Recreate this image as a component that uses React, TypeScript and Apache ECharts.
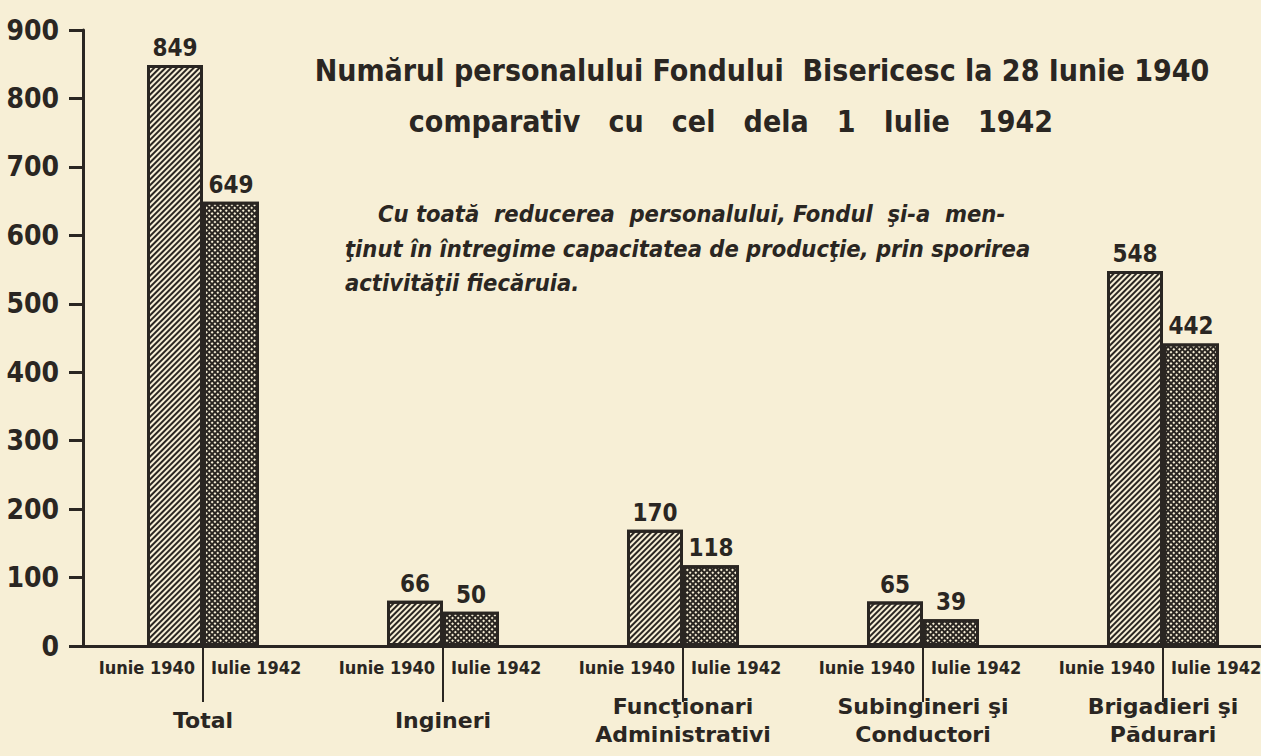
import React, { useEffect, useRef } from "react";
import * as echarts from "echarts";

const categories = [
  "Total",
  "Ingineri",
  "Funcţionari\nAdministrativi",
  "Subingineri şi\nConductori",
  "Brigadieri şi\nPădurari",
];
const seriesNames = ["Iunie 1940", "Iulie 1942"];
const values1940 = [849, 66, 170, 65, 548];
const values1942 = [649, 50, 118, 39, 442];
const yMin = 0;
const yMax = 900;
const yInterval = 100;
const titleLines = [
  "Numărul personalului Fondului  Bisericesc la 28 Iunie 1940",
  "comparativ   cu   cel   dela   1   Iulie   1942",
];
const noteLines = [
  "Cu toată  reducerea  personalului, Fondul  şi-a  men-",
  "ţinut în întregime capacitatea de producţie, prin sporirea",
  "activităţii fiecăruia.",
];

const INK = "#2a2622";
const PAPER = "#f7efd6";
const COND = '"DejaVu Sans Condensed", "DejaVu Sans", sans-serif';

export default function App() {
  const ref = useRef<HTMLDivElement>(null);

  useEffect(() => {
    if (!ref.current) return;
    const chart = echarts.init(ref.current, undefined, { renderer: "svg" });
    const noteFont = `italic bold 23.5px ${COND}`;
    const titleFont = `bold 30px ${COND}`;
    const option: any = {
      animation: false,
      backgroundColor: PAPER,
      grid: { left: 83, top: 30, width: 1200, height: 616 },
      xAxis: {
        type: "category",
        data: categories,
        axisLine: { show: true, lineStyle: { color: INK, width: 3 } },
        axisTick: {
          show: true,
          alignWithLabel: true,
          length: 56,
          lineStyle: { color: INK, width: 2 },
        },
        axisLabel: {
          interval: 0,
          margin: 74,
          verticalAlign: "middle",
          fontFamily: "DejaVu Sans",
          fontWeight: "bold",
          fontSize: 22,
          lineHeight: 28,
          color: INK,
        },
        splitLine: { show: false },
      },
      yAxis: {
        type: "value",
        min: yMin,
        max: yMax,
        interval: yInterval,
        axisLine: { show: true, lineStyle: { color: INK, width: 3 } },
        axisTick: { show: true, length: 14, lineStyle: { color: INK, width: 3 } },
        axisLabel: {
          margin: 24,
          fontSize: 28,
          fontWeight: "bold",
          fontFamily: COND,
          color: INK,
        },
        splitLine: { show: false },
      },
      series: [
        {
          name: seriesNames[0],
          type: "bar",
          data: values1940,
          barWidth: 56,
          barGap: "0%",
          itemStyle: {
            color: PAPER,
            borderColor: INK,
            borderWidth: 3,
            decal: {
              symbol: "rect",
              symbolSize: 1,
              dashArrayX: [1, 0],
              dashArrayY: [2, 2],
              rotation: -Math.PI / 4,
              color: INK,
            },
          },
          label: {
            show: true,
            position: "top",
            distance: 5,
            fontSize: 24,
            fontWeight: "bold",
            fontFamily: COND,
            color: INK,
          },
        },
        {
          name: seriesNames[1],
          type: "bar",
          data: values1942,
          barWidth: 56,
          barGap: "0%",
          itemStyle: {
            color: INK,
            borderColor: INK,
            borderWidth: 3,
            decal: {
              symbol: "rect",
              symbolSize: 1,
              dashArrayX: [2, 2],
              dashArrayY: [2, 2],
              rotation: Math.PI / 4,
              color: PAPER,
            },
          },
          label: {
            show: true,
            position: "top",
            distance: 5,
            fontSize: 24,
            fontWeight: "bold",
            fontFamily: COND,
            color: INK,
          },
        },
        {
          name: "sub-labels",
          type: "custom",
          silent: true,
          data: categories.map((_, i) => [i, 0]),
          encode: { x: 0, y: 1 },
          renderItem: (params: any, api: any) => {
            const p = api.coord([api.value(0), api.value(1)]);
            const font = `bold 18px ${COND}`;
            return {
              type: "group",
              children: [
                {
                  type: "text",
                  x: p[0] - 8,
                  y: p[1] + 21,
                  style: {
                    text: seriesNames[0],
                    font,
                    fill: INK,
                    align: "right",
                    verticalAlign: "middle",
                  },
                },
                {
                  type: "text",
                  x: p[0] + 8,
                  y: p[1] + 21,
                  style: {
                    text: seriesNames[1],
                    font,
                    fill: INK,
                    align: "left",
                    verticalAlign: "middle",
                  },
                },
              ],
            };
          },
        },
      ],
      graphic: [
        {
          type: "text",
          x: 762,
          y: 70,
          style: {
            text: titleLines[0],
            font: titleFont,
            fill: INK,
            align: "center",
            verticalAlign: "middle",
          },
        },
        {
          type: "text",
          x: 731,
          y: 121,
          style: {
            text: titleLines[1],
            font: titleFont,
            fill: INK,
            align: "center",
            verticalAlign: "middle",
          },
        },
        {
          type: "text",
          x: 378,
          y: 214,
          style: {
            text: noteLines[0],
            font: noteFont,
            fill: INK,
            align: "left",
            verticalAlign: "middle",
          },
        },
        {
          type: "text",
          x: 345,
          y: 249,
          style: {
            text: noteLines[1],
            font: noteFont,
            fill: INK,
            align: "left",
            verticalAlign: "middle",
          },
        },
        {
          type: "text",
          x: 345,
          y: 283,
          style: {
            text: noteLines[2],
            font: noteFont,
            fill: INK,
            align: "left",
            verticalAlign: "middle",
          },
        },
      ],
    };
    chart.setOption(option);
    return () => chart.dispose();
  }, []);

  return (
    <div
      ref={ref}
      style={{ position: "fixed", left: 0, top: 0, width: 1290, height: 756 }}
    />
  );
}
